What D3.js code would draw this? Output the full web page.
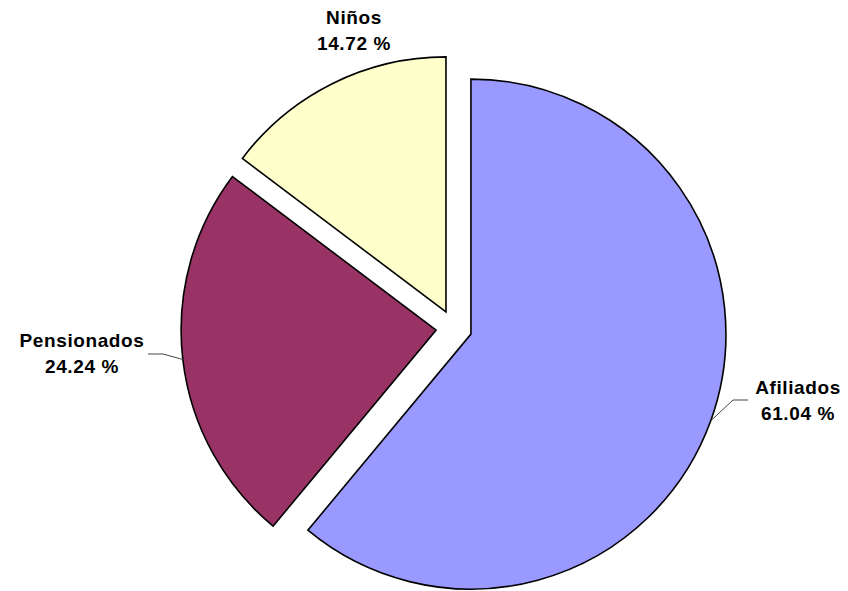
<!DOCTYPE html>
<html>
<head>
<meta charset="utf-8">
<script src="https://cdn.jsdelivr.net/npm/d3@7"></script>
<style>
  html, body { margin: 0; padding: 0; background: #fff; }
  svg { display: block; }
</style>
</head>
<body>
<div id="chart"></div>
<script>
// data
const categories = ["Afiliados", "Pensionados", "Niños"];
const values = [61.04, 24.24, 14.72];
const colors = ["#9999FF", "#993366", "#FFFFCC"];

const width = 848, height = 591;
const cx = 454, cy = 328;
const radius = 255;
const explode = 18;

// label placement (relative to the page)
const labelPos = {
    "Afiliados":   { x: 798, y: 394, elbow: [733, 400], end: [748, 400] },
    "Pensionados": { x: 82,  y: 347, elbow: [163, 354], end: [148, 354] },
    "Niños":       { x: 354, y: 24 }
};

const svg = d3.select("#chart").append("svg")
    .attr("width", width)
    .attr("height", height);

const pie = d3.pie().sort(null).value(d => d.value);
const arcs = pie(categories.map((c, i) => ({ name: c, value: values[i], color: colors[i] })));

const arc = d3.arc().innerRadius(0).outerRadius(radius);

// offset of every slice along its middle angle
function offset(d, dist) {
    const a = (d.startAngle + d.endAngle) / 2;
    return [Math.sin(a) * dist, -Math.cos(a) * dist];
}

const g = svg.append("g").attr("transform", `translate(${cx},${cy})`);

g.selectAll("path.slice")
    .data(arcs)
    .join("path")
    .attr("class", "slice")
    .attr("transform", d => {
        const [dx, dy] = offset(d, explode);
        return `translate(${dx},${dy})`;
    })
    .attr("d", arc)
    .attr("fill", d => d.data.color)
    .attr("stroke", "#000")
    .attr("stroke-width", 1.6)
    .attr("stroke-linejoin", "miter");

// leader lines
arcs.forEach(d => {
    const p = labelPos[d.data.name];
    if (!p.elbow) return;
    const [ox, oy] = offset(d, explode);
    const [ex, ey] = offset(d, radius);
    const start = [cx + ox + ex, cy + oy + ey];
    svg.append("polyline")
        .attr("points", [start, p.elbow, p.end].map(q => q.join(",")).join(" "))
        .attr("fill", "none")
        .attr("stroke", "#444")
        .attr("stroke-width", 1);
});

// labels
const labels = svg.selectAll("text.label")
    .data(arcs)
    .join("text")
    .attr("class", "label")
    .attr("text-anchor", "middle")
    .attr("font-family", "'Liberation Sans', Arial, sans-serif")
    .attr("font-weight", "bold")
    .attr("font-size", 19)
    .attr("letter-spacing", 0.6)
    .attr("fill", "#000");

labels.append("tspan")
    .attr("x", d => labelPos[d.data.name].x)
    .attr("y", d => labelPos[d.data.name].y)
    .text(d => d.data.name);

labels.append("tspan")
    .attr("x", d => labelPos[d.data.name].x)
    .attr("y", d => labelPos[d.data.name].y + 26)
    .text(d => d.data.value.toFixed(2) + " %");
</script>
</body>
</html>
